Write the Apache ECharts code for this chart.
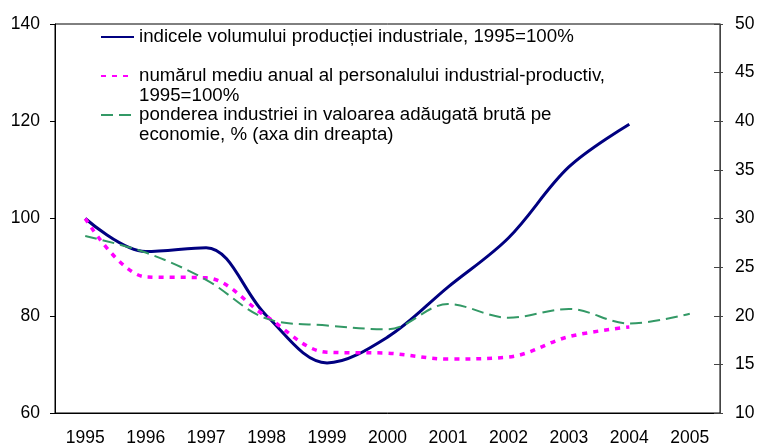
<!DOCTYPE html>
<html>
<head>
<meta charset="utf-8">
<script src="https://cdn.jsdelivr.net/npm/echarts@6/dist/echarts.min.js"></script>
<style>
  html, body { margin: 0; padding: 0; background: #fff; }
  #main { width: 759px; height: 448px; }
</style>
</head>
<body>
<div id="main"></div>
<script>
var years = ['1995', '1996', '1997', '1998', '1999', '2000', '2001', '2002', '2003', '2004', '2005'];

// indicele volumului productiei industriale, 1995=100%
var productie = [100, 93.2, 94.0, 80, 70.3, 75.6, 85.9, 96, 110.6, 119.4, null];
// numarul mediu anual al personalului industrial-productiv, 1995=100%
var personal = [100, 88, 87.8, 79.8, 72.5, 72.3, 71.1, 71.5, 75.7, 77.7, null];
// ponderea industriei in VAB, % (axa din dreapta)
var pondere = [28.2, 26.5, 23.7, 19.7, 19.0, 18.6, 21.2, 19.8, 20.7, 19.2, 20.2];

var names = [
    'indicele volumului producției industriale, 1995=100%',
    'numărul mediu anual al personalului industrial-productiv,\n1995=100%',
    'ponderea industriei in valoarea adăugată brută pe\neconomie, % (axa din dreapta)'
];

var font = '"Liberation Sans", Arial, sans-serif';

// multi-line names get an empty first line so the icon sits beside line one
function legendAt(name, top, multi) {
    return {
        data: [name],
        left: 100,
        top: top,
        padding: 0,
        itemWidth: 33,
        itemHeight: 14,
        itemGap: 0,
        selectedMode: false,
        itemStyle: { opacity: 0 },
        formatter: function (n) { return multi ? ' \n' + n : n; },
        textStyle: {
            fontFamily: font,
            fontSize: 18.7,
            color: '#000',
            lineHeight: 20
        }
    };
}

var chart = echarts.init(document.getElementById('main'));
chart.setOption({
    animation: false,
    backgroundColor: '#fff',
    grid: {
        left: 55, right: 39, top: 24, bottom: 35,
        show: true, borderColor: '#000', borderWidth: 1
    },
    legend: [
        legendAt(names[0], 27, false),
        legendAt(names[1], 46, true),
        legendAt(names[2], 85, true)
    ],
    xAxis: {
        type: 'category',
        data: years,
        boundaryGap: true,
        axisLine: { lineStyle: { color: '#000' } },
        axisTick: { alignWithLabel: false, length: 5, lineStyle: { color: '#000' } },
        axisLabel: { color: '#000', fontFamily: font, fontSize: 17.5, margin: 16, interval: 0 }
    },
    yAxis: [{
        type: 'value',
        min: 60, max: 140, interval: 20,
        axisLine: { show: true, lineStyle: { color: '#000' } },
        axisTick: { show: true, length: 5, lineStyle: { color: '#000' } },
        axisLabel: { color: '#000', fontFamily: font, fontSize: 17.5, margin: 15 },
        splitLine: { show: false }
    }, {
        type: 'value',
        position: 'right',
        min: 10, max: 50, interval: 5,
        axisLine: { show: true, lineStyle: { color: '#444' } },
        axisTick: { show: true, inside: true, length: 6, lineStyle: { color: '#444' } },
        axisLabel: { color: '#000', fontFamily: font, fontSize: 17.5, margin: 15 },
        splitLine: { show: false }
    }, {
        type: 'value',
        position: 'right',
        min: 10, max: 50, interval: 5,
        axisLine: { show: false },
        axisTick: { show: true, length: 3, lineStyle: { color: '#444' } },
        axisLabel: { show: false },
        splitLine: { show: false }
    }],
    series: [{
        name: names[0],
        type: 'line',
        data: productie,
        smooth: 0.35,
        showSymbol: false,
        symbol: 'none',
        lineStyle: { color: '#000080', width: 3 },
        itemStyle: { color: '#000080' }
    }, {
        name: names[1],
        type: 'line',
        data: personal,
        smooth: 0.35,
        showSymbol: false,
        symbol: 'none',
        lineStyle: { color: '#ff00ff', width: 3.5, type: [5, 6] },
        itemStyle: { color: '#ff00ff' }
    }, {
        name: names[2],
        type: 'line',
        yAxisIndex: 1,
        data: pondere,
        smooth: 0.35,
        showSymbol: false,
        symbol: 'none',
        lineStyle: { color: '#339966', width: 2, type: [12, 6] },
        itemStyle: { color: '#339966' }
    }]
});
</script>
</body>
</html>
